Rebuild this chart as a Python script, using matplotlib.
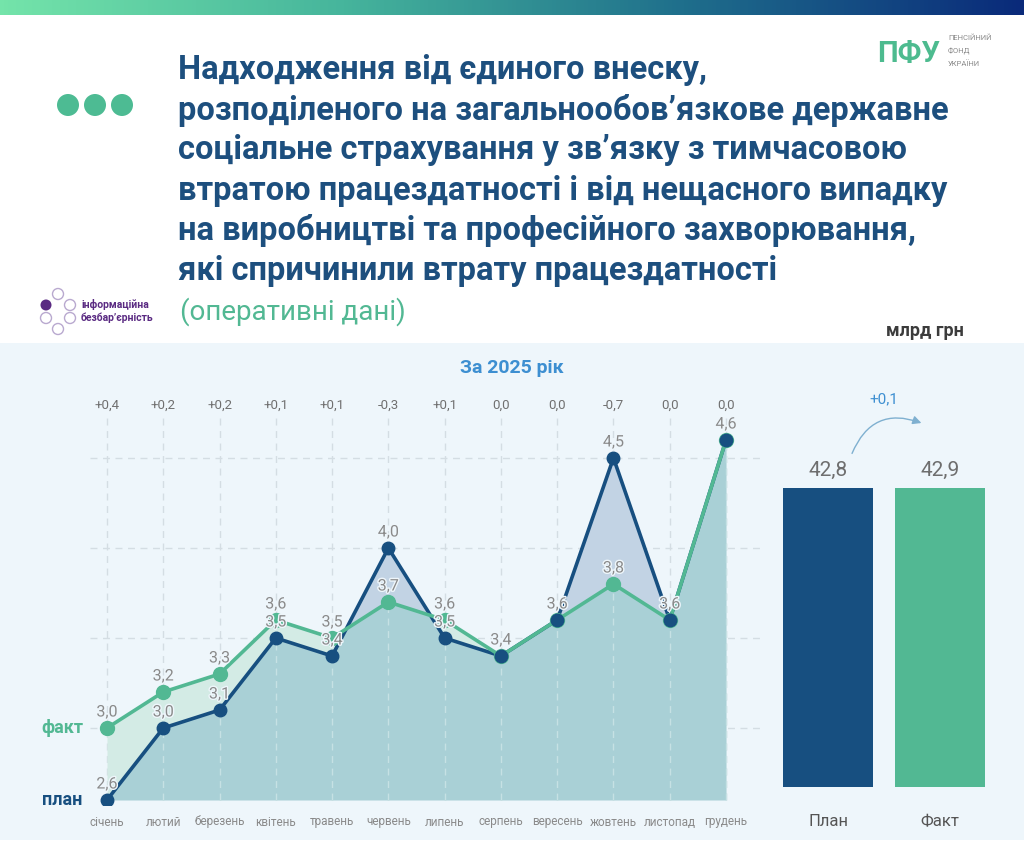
import numpy as np
import matplotlib
matplotlib.use('Agg')
import matplotlib.pyplot as plt
import matplotlib.patheffects as pe
from matplotlib.colors import LinearSegmentedColormap
from matplotlib.patches import Rectangle, Circle, FancyArrowPatch

plt.rcParams['font.family'] = ['Roboto', 'DejaVu Sans']

months = ['січень', 'лютий', 'березень', 'квітень', 'травень', 'червень',
          'липень', 'серпень', 'вересень', 'жовтень', 'листопад', 'грудень']
plan = [2.6, 3.0, 3.1, 3.5, 3.4, 4.0, 3.5, 3.4, 3.6, 4.5, 3.6, 4.6]
fact = [3.0, 3.2, 3.3, 3.6, 3.5, 3.7, 3.6, 3.4, 3.6, 3.8, 3.6, 4.6]
diff = ['+0,4', '+0,2', '+0,2', '+0,1', '+0,1', '-0,3', '+0,1', '0,0', '0,0', '-0,7', '0,0', '0,0']
year_labels = ['План', 'Факт']
year_values = [42.8, 42.9]
year_diff = '+0,1'

NAVY = '#174f80'
GREEN = '#52b893'
TITLE = '#1d4f7e'
GRAY = '#8a8a8a'
BG = '#eef6fb'

W, H = 1024, 858
fig = plt.figure(figsize=(W / 100, H / 100), dpi=100, facecolor='white')


def fx(px):
    return px / W


def fy(py):
    return 1 - py / H


# overlay axes in pixel coordinates for header decorations
lax = fig.add_axes([0, 0, 1, 1], facecolor='none', zorder=-1)
lax.set_xlim(0, W)
lax.set_ylim(H, 0)
lax.axis('off')

# light panel behind the charts
lax.add_patch(Rectangle((0, 343), W, 840 - 343, facecolor=BG, edgecolor='none', zorder=0))

# gradient stripe on top
cmap = LinearSegmentedColormap.from_list('hdr', ['#74e4aa', '#46b59c', '#1f6f8c', '#0a2a7a'])
gax = fig.add_axes([0, fy(15), 1, 15 / H])
gax.imshow(np.linspace(0, 1, 256)[None, :], aspect='auto', cmap=cmap)
gax.axis('off')

# header
title_lines = ['Надходження від єдиного внеску,',
               'розподіленого на загальнообов’язкове державне',
               'соціальне страхування у зв’язку з тимчасовою',
               'втратою працездатності і від нещасного випадку',
               'на виробництві та професійного захворювання,',
               'які спричинили втрату працездатності']
for i, line in enumerate(title_lines):
    lax.text(178, 70 + i * 40.2, line, fontsize=23.5, fontweight='bold', color=TITLE,
             ha='left', va='center')
lax.text(180, 312, '(оперативні дані)', fontsize=20, color=GREEN, ha='left', va='center')

for cx in [68, 95, 122]:
    lax.add_patch(Circle((cx, 105), 11, facecolor='#4dbb93', edgecolor='none'))

# accessibility logo
for (cx, cy) in [(58, 294), (70, 305), (46, 318), (58, 329), (70, 318)]:
    lax.add_patch(Circle((cx, cy), 5.5, facecolor='white', edgecolor='#b9a9cf', lw=1))
lax.add_patch(Circle((46, 305), 5.5, facecolor='#5a2a82', edgecolor='none'))
lax.text(81, 305, 'інформаційна', fontsize=7.5, color='#5a2a82', fontweight='bold', va='center')
lax.text(81, 318, 'безбар’єрність', fontsize=7.5, color='#5a2a82', fontweight='bold', va='center')

# PFU logo
lax.text(877, 54, 'ПФУ', fontsize=21, fontweight='bold', color='#4dbb8f', va='center', ha='left')
for i, w in enumerate(['ПЕНСІЙНИЙ', 'ФОНД', 'УКРАЇНИ']):
    lax.text(948, 38 + i * 13, w, fontsize=5.5, color='#8a8a8a', va='center', ha='left')

lax.text(925, 331, 'млрд грн', fontsize=13, fontweight='bold', color='#3c3c3c', ha='center', va='center')

# ---- monthly line chart ----
x = np.arange(len(months))
ypx_per = 180.0
ax = fig.add_axes([fx(90), fy(805), fx(760) - fx(90), (805 - 395) / H], facecolor='none')
ax.set_xlim(-17 / 56.3, 11 + 34 / 56.3)
ax.set_ylim(2.6 - 5 / ypx_per, 2.6 + 405 / ypx_per)
ax.axis('off')

p = np.array(plan)
f = np.array(fact)
base = 2.6
# fine grid so the shaded areas follow the line crossings exactly
xs = np.linspace(0, len(months) - 1, 1101)
ps = np.interp(xs, x, p)
fs = np.interp(xs, x, f)
lo = np.minimum(ps, fs)
ax.fill_between(xs, base, lo, color='#a9d0d6', lw=0, zorder=1)
ax.fill_between(xs, lo, fs, color='#d3ebe5', lw=0, zorder=1)
ax.fill_between(xs, lo, ps, color='#c2d3e4', lw=0, zorder=1)

for yv in [3.0, 3.5, 4.0, 4.5]:
    ax.axhline(yv, color='#d4dde3', lw=1, ls=(0, (5, 4)), zorder=0.5)
ax.vlines(x, base, 2.6 + 385 / ypx_per, color='#d4dde3', lw=1, ls=(0, (5, 4)), zorder=0.5)
ax.vlines(x, base, np.minimum(p, f), color='#c6e1e4', lw=1, ls=(0, (5, 4)), zorder=1.5)

ax.plot(x, p, color=NAVY, lw=2.6, zorder=3)
ax.plot(x, f, color=GREEN, lw=2.6, zorder=4)
ax.plot(x, f, 'o', color=GREEN, ms=10, mec=GREEN, zorder=5)
ax.plot(x, p, 'o', color=NAVY, ms=9, mec=NAVY, zorder=6)

stroke = [pe.withStroke(linewidth=2, foreground=BG)]
for xi, v in zip(x, plan):
    ax.text(xi, v + 16 / ypx_per, f'{v:.1f}'.replace('.', ','), fontsize=11.5, color=GRAY,
            ha='center', va='center', zorder=8, path_effects=stroke)
for xi, v, pv in zip(x, fact, plan):
    if abs(v - pv) < 1e-9:
        continue
    ax.text(xi, v + 16 / ypx_per, f'{v:.1f}'.replace('.', ','), fontsize=11.5, color=GRAY,
            ha='center', va='center', zorder=8, path_effects=stroke)
for xi, d in zip(x, diff):
    ax.text(xi, 2.6 + 395 / ypx_per, d, fontsize=9.5, color='#707070', ha='center', va='center',
            clip_on=False)
for xi, m in zip(x, months):
    ax.text(xi, 2.6 - 22 / ypx_per, m, fontsize=8.5, color=GRAY, ha='center', va='center', clip_on=False)

ax.text(-45 / 56.3, 3.0, 'факт', fontsize=13, fontweight='bold', color=GREEN, ha='center', va='center',
        clip_on=False)
ax.text(-45 / 56.3, 2.6, 'план', fontsize=13, fontweight='bold', color=NAVY, ha='center', va='center',
        clip_on=False)
ax.text((512 - 107) / 56.3, 2.6 + 432 / ypx_per, 'За 2025 рік', fontsize=14, fontweight='bold',
        color='#3d8fd1', ha='center', va='center', clip_on=False)

# ---- annual bars ----
bax = fig.add_axes([fx(772), fy(787), fx(996) - fx(772), (787 - 390) / H], facecolor='none')
scale = 299 / 42.85
bax.set_xlim(-0.5, 1.5)
bax.set_ylim(0, 397 / scale)
bax.axis('off')
bax.bar([0, 1], year_values, width=0.8, color=[NAVY, GREEN], zorder=2)
for i, v in enumerate(year_values):
    bax.text(i, 42.85 + 18 / scale, f'{v:.1f}'.replace('.', ','), fontsize=15, color='#6e6e6e',
             ha='center', va='center')
    bax.text(i, -35 / scale, year_labels[i], fontsize=12, color='#555555', ha='center', va='center',
             clip_on=False)
arr = FancyArrowPatch((851, 456), (924, 424), connectionstyle='arc3,rad=-0.5',
                      arrowstyle='-|>,head_length=5,head_width=2.5', color='#7fb0d0', lw=1,
                      transform=lax.transData)
lax.add_patch(arr)
lax.text(884, 399, year_diff, fontsize=11, color='#3d8fd1', ha='center', va='center')

fig.savefig('out.png', dpi=100, facecolor='white')
